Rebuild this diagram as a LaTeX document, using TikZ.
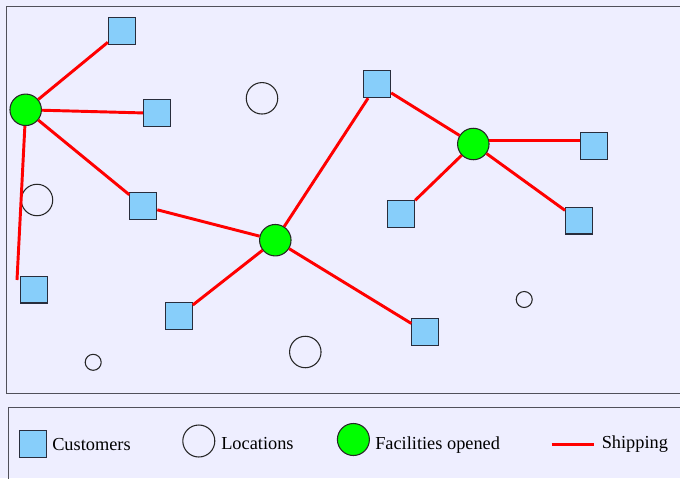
\documentclass[tikz,border=0pt]{standalone}
\usepackage{fontspec}
\setmainfont{Liberation Serif}
\definecolor{bglav}{RGB}{238,238,255}
\definecolor{custblue}{RGB}{135,206,250}
\definecolor{facgreen}{RGB}{0,255,0}
\definecolor{framegray}{RGB}{80,80,90}
\definecolor{edgedark}{RGB}{40,45,60}
\begin{document}
\begin{tikzpicture}[x=0.75pt,y=-0.75pt,
  customer/.style={draw=edgedark,line width=0.8pt,fill=custblue,minimum size=20.2pt,inner sep=0pt},
  location/.style={circle,draw=black!85,line width=0.8pt,inner sep=0pt},
  bigloc/.style={location,minimum size=23.6pt},
  smallloc/.style={location,minimum size=12pt},
  facility/.style={circle,draw=black!85,line width=0.8pt,fill=facgreen,minimum size=23.6pt,inner sep=0pt},
  shipping/.style={draw=red,line width=2.2pt},
  panel/.style={draw=framegray,line width=1pt},
  legendtext/.style={anchor=west,inner sep=0pt,font=\fontsize{13.75}{16}\selectfont}]
\useasboundingbox (0,0) rectangle (680,478);
\clip (0,0) rectangle (680,478);
\fill[bglav] (0,0) rectangle (680,478);

% map panel and legend panel
\draw[panel] (6.5,6.5) rectangle (700,393.3);
\draw[panel] (8.5,407.3) rectangle (700,500);

% customers
\node[customer] (s1) at (121.8,30.8) {};
\node[customer] (s2) at (156.8,113.3) {};
\node[customer] (s3) at (143.3,206.2) {};
\node[customer] (s4) at (178.8,316) {};
\node[customer] (s5) at (425.3,332) {};
\node[customer] (s6) at (377.2,84.2) {};
\node[customer] (s7) at (33.7,289.5) {};
\node[customer] (s8) at (594.3,146.2) {};
\node[customer] (s9) at (579,220.5) {};
\node[customer] (s10) at (401.2,213.8) {};

% candidate locations
\node[bigloc] (l1) at (262,98.3) {};
\node[bigloc] (l2) at (37,200) {};
\node[bigloc] (l3) at (305.3,352) {};
\node[smallloc] (l4) at (93.2,362.3) {};
\node[smallloc] (l5) at (524.2,299.5) {};

% opened facilities
\node[facility] (f1) at (25.7,109.8) {};
\node[facility] (f2) at (275.3,240.2) {};
\node[facility] (f3) at (473.3,144) {};

% shipping links
\coordinate (e7) at (17,280);
\draw[shipping] (f1) -- (s1);
\draw[shipping] (f1) -- (s2);
\draw[shipping] (f1) -- (s3);
\draw[shipping] (f1) -- (e7);
\draw[shipping] (s3) -- (f2);
\draw[shipping] (f2) -- (s4);
\draw[shipping] (f2) -- (s5);
\draw[shipping] (f2) -- (s6);
\draw[shipping] (s6) -- (f3);
\draw[shipping] (f3.14) -- (s8.west |- f3.14);
\draw[shipping] (f3) -- (s9);
\draw[shipping] (f3) -- (s10);

% legend
\node[customer] (lgc) at (33,444.3) {};
\node[legendtext] (lgct) at (52,445) {Customers};
\node[location,minimum size=24pt] (lgl) at (198.8,441) {};
\node[legendtext] (lglt) at (221,443.5) {Locations};
\node[facility,minimum size=24pt] (lgf) at (353.4,439.5) {};
\node[legendtext] (lgft) at (375,445) {Facilities opened};
\coordinate (lgs1) at (551.6,444.3);
\coordinate (lgs2) at (594,444.3);
\draw[shipping] (lgs1) -- (lgs2);
\node[legendtext] (lgst) at (601.5,444.5) {Shipping};
\end{tikzpicture}
\end{document}
